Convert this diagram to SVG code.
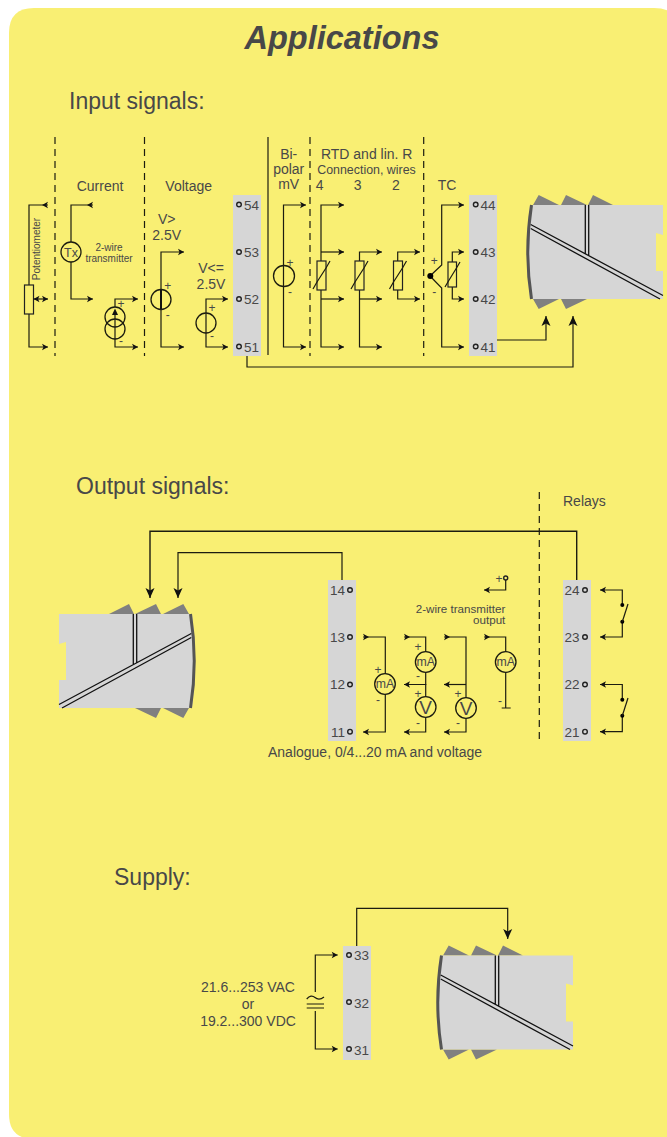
<svg xmlns="http://www.w3.org/2000/svg" xmlns:xlink="http://www.w3.org/1999/xlink" width="667" height="1137" viewBox="0 0 667 1137">
<style>
text{font-family:"Liberation Sans",Arial,sans-serif;fill:#484848}
.h{font-size:23px}
.t{font-size:14px}
.m{font-size:14px;text-anchor:middle}
.s{font-size:10px;text-anchor:middle}
.n{font-size:13.500px}
.e{font-size:13.500px;text-anchor:end}
.pm{font-size:12px;text-anchor:middle}
.ma{font-size:12.300px;text-anchor:middle}
.v{font-size:19px;text-anchor:middle}
.b{fill:#d6d6d6}
.w{fill:none;stroke:#1c1c10;stroke-width:1.2}
.w2{fill:none;stroke:#1c1c10;stroke-width:1.4}
.a{marker-end:url(#arr)}
.r{marker-end:url(#rev)}
.big{marker-end:url(#big)}
.c{fill:none;stroke:#1c1c10;stroke-width:1.3}
.o{fill:none;stroke:#222;stroke-width:1.4}
.d{fill:none;stroke:#1c1c10;stroke-width:1.2;stroke-dasharray:7 5}
.rs{fill:none;stroke:#222;stroke-width:1.2}
.tab{fill:#808080}
.dt{fill:#000}
</style>
<defs>
<marker id="arr" markerUnits="userSpaceOnUse" markerWidth="8" markerHeight="8" refX="6.500" refY="4" orient="auto"><path d="M0.500 0.700 L6.500 4 L0.500 7.300 L2 4Z" fill="#111"/></marker>
<marker id="rev" markerUnits="userSpaceOnUse" markerWidth="8" markerHeight="8" refX="6.500" refY="4" orient="auto"><path d="M0.500 4 L6.500 0.700 L5 4 L6.500 7.300Z" fill="#111"/></marker>
<marker id="big" markerUnits="userSpaceOnUse" markerWidth="12" markerHeight="12" refX="10" refY="5" orient="auto"><path d="M0 0.500 L10 5 L0 9.500 L2.500 5Z" fill="#111"/></marker>
<g id="device">
<path class="tab" d="M533 205L538.700 195L559 205ZM561 205L566 195L587 205ZM588 205L593 195L613 205ZM533 299L538.700 309L559 299ZM561 299L566 309L587 299Z"/>
<path class="b" d="M530 205H663V235L656 233V271H663V299H530Q524 252 530 205Z"/>
<path d="M531.500 205Q524 252 531.500 299" fill="none" stroke="#555" stroke-width="3"/>
<path d="M530.700 224.500L663 295.500M530.700 228.500L660 299M585.300 205V254M588.700 205V256" fill="none" stroke="#111" stroke-width="1.300"/>
</g>
</defs>

<path id="panel" d="M34 8H654Q679 8 679 33V1139H34Q9 1139 9 1114V33Q9 8 34 8Z" fill="#f9ef73"/>

<g id="headings">
<text x="342" y="49" font-size="32.500" font-weight="bold" font-style="italic" text-anchor="middle">Applications</text>
<text class="h" x="69" y="109">Input signals:</text>
<text class="h" x="76" y="494">Output signals:</text>
<text class="h" x="114" y="885">Supply:</text>
</g>

<g id="dividers">
<path class="d" d="M55 137V356M144.500 137V356M310 137V356M423.700 137V356M539.300 492V741"/>
<path class="w" d="M268 137V355"/>
</g>

<g id="connectors">
<path class="w" d="M497 340H546V316" marker-end="url(#big)"/>
<path class="w" d="M247 356V367H573V316" marker-end="url(#big)"/>
<path class="w2" d="M576.700 580V531.300H150V598" marker-end="url(#big)"/>
<path class="w" d="M342 580V552.700H178V598" marker-end="url(#big)"/>
<path class="w" d="M356.700 946V908.300H507.700V939" marker-end="url(#big)"/>
</g>

<g id="block-input-left">
<rect class="b" x="233" y="195" width="28" height="161"/>
<circle class="o" cx="239" cy="204.500" r="2.300"/><circle class="o" cx="239" cy="252" r="2.300"/><circle class="o" cx="239" cy="299" r="2.300"/><circle class="o" cx="239" cy="346.500" r="2.300"/>
<text class="n" x="244" y="209.500">54</text><text class="n" x="244" y="257">53</text><text class="n" x="244" y="304">52</text><text class="n" x="244" y="351.500">51</text>
</g>

<g id="block-input-right">
<rect class="b" x="469" y="195" width="28" height="161"/>
<circle class="o" cx="475.700" cy="204.500" r="2.300"/><circle class="o" cx="475.700" cy="252" r="2.300"/><circle class="o" cx="475.700" cy="299" r="2.300"/><circle class="o" cx="475.700" cy="346.500" r="2.300"/>
<text class="n" x="480.500" y="209.500">44</text><text class="n" x="480.500" y="257">43</text><text class="n" x="480.500" y="304">42</text><text class="n" x="480.500" y="351.500">41</text>
</g>

<g id="potentiometer">
<path class="w r" d="M29 285V205H48"/>
<path class="w a" d="M29 314V347H48"/>
<rect class="rs" x="24.500" y="285" width="9" height="29"/>
<path class="w a" d="M33.500 299H48"/>
<path d="M33.500 299L39.500 295.700L38 299L39.500 302.300Z" fill="#111"/>
<text font-size="10" text-anchor="middle" transform="translate(40 249) rotate(-90)">Potentiometer</text>
</g>

<g id="current">
<text class="m" x="100" y="190.700">Current</text>
<path class="w r" d="M71 242V205H93"/>
<path class="w a" d="M71 262V299H93"/>
<circle class="c" cx="71" cy="252" r="10"/>
<text x="71" y="256.700" font-size="12.500" text-anchor="middle">Tx</text>
<text class="s" x="109" y="250.700">2-wire</text>
<text class="s" x="109" y="262">transmitter</text>
<path class="w a" d="M115 307V299H138"/>
<path class="w a" d="M115 339V347H138"/>
<circle class="c" cx="115" cy="317" r="10"/>
<circle class="c" cx="115" cy="329" r="10"/>
<path class="w" d="M115 339V313"/>
<path d="M115 308.500L112 315H118Z" fill="#111"/>
<text class="pm" x="121" y="308">+</text><text class="pm" x="121" y="345">-</text>
</g>

<g id="voltage">
<text class="m" x="188.700" y="190.700">Voltage</text>
<text class="m" x="166.700" y="224.300">V&gt;</text><text class="m" x="166.700" y="240">2.5V</text>
<path class="w a" d="M161 299V252H184"/>
<path class="w a" d="M161 299V347H184"/>
<circle class="c" cx="161" cy="299.500" r="10"/>
<path d="M161 290V309" stroke="#111" stroke-width="2"/>
<text class="pm" x="167.700" y="290">+</text><text class="pm" x="167.700" y="318.500">-</text>
<text class="m" x="211" y="273.300">V&lt;=</text><text class="m" x="211" y="289">2.5V</text>
<path class="w a" d="M206 323V299H228"/>
<path class="w a" d="M206 323V347H228"/>
<circle class="c" cx="206" cy="323" r="10"/>
<text class="pm" x="212" y="312">+</text><text class="pm" x="212" y="340">-</text>
</g>

<g id="bipolar">
<text class="m" x="288.700" y="159">Bi-</text><text class="m" x="288.700" y="174">polar</text><text class="m" x="288.700" y="188.500">mV</text>
<path class="w a" d="M283.500 276V205H306"/>
<path class="w a" d="M283.500 276V347H306"/>
<circle class="c" cx="284" cy="276" r="10.500"/>
<text class="pm" x="290" y="266.500">+</text><text class="pm" x="290" y="295.500">-</text>
</g>

<g id="rtd">
<text class="m" x="366.700" y="159">RTD and lin. R</text>
<text x="366.500" y="174" font-size="12.400" text-anchor="middle">Connection, wires</text>
<text class="m" x="319.700" y="190">4</text><text class="m" x="357.700" y="190">3</text><text class="m" x="396" y="190">2</text>
<path class="w a" d="M321 261V205H344"/>
<path class="w a" d="M321 252H344"/>
<path class="w a" d="M321 290V347H344"/>
<path class="w a" d="M321 299H344"/>
<rect class="rs" x="317" y="261" width="9" height="29"/>
<path class="w" d="M313 289L317 282L326 268L330 261"/>
<path class="w a" d="M359.500 261V252H382"/>
<path class="w a" d="M359.500 290V347H382"/>
<path class="w a" d="M359.500 299H382"/>
<rect class="rs" x="355" y="261" width="9" height="29"/>
<path class="w" d="M351 289L355 282L364 268L368 261"/>
<path class="w a" d="M397.700 261V252H420"/>
<path class="w a" d="M397.700 290V299H420"/>
<rect class="rs" x="393.500" y="261" width="9" height="29"/>
<path class="w" d="M389.500 289L393.500 282L402.500 268L406.500 261"/>
</g>

<g id="tc">
<text class="m" x="447" y="190">TC</text>
<path class="w a" d="M430 276L441.700 265V205H464"/>
<path class="w a" d="M430 276L441.700 288V347H464"/>
<circle class="dt" cx="430.300" cy="276" r="3"/>
<text class="pm" x="434.300" y="265">+</text><text class="pm" x="434.300" y="296">-</text>
<path class="w a" d="M452.300 262V252H464"/>
<path class="w a" d="M452.300 287V299H464"/>
<rect class="rs" x="448" y="262" width="8.500" height="25"/>
<path class="w" d="M445 287L448.500 281L456.500 268L460 262"/>
</g>

<use id="device-input" xlink:href="#device" href="#device"/>

<g id="block-output">
<rect class="b" x="328" y="580" width="28" height="161"/>
<circle class="o" cx="350" cy="590" r="2.300"/><circle class="o" cx="350" cy="637" r="2.300"/><circle class="o" cx="350" cy="684.500" r="2.300"/><circle class="o" cx="350" cy="731.700" r="2.300"/>
<text class="e" x="345" y="595">14</text><text class="e" x="345" y="642">13</text><text class="e" x="345" y="689">12</text><text class="e" x="345" y="736.700">11</text>
</g>

<g id="output-1">
<path class="w r" d="M385.300 674V637H363"/>
<path class="w a" d="M385.300 694V732H363"/>
<circle class="c" cx="385" cy="684" r="10.300"/>
<text class="ma" x="385" y="688.300">mA</text>
<text class="pm" x="378" y="674">+</text><text class="pm" x="378" y="703.500">-</text>
</g>
<g id="output-2">
<path class="w r" d="M425.700 652V637H404"/>
<path class="w a" d="M425.700 672V684.500H404"/>
<path class="w" d="M425.700 684V697"/>
<path class="w a" d="M425.700 717V732H404"/>
<circle class="c" cx="425.700" cy="662" r="10.300"/>
<circle class="c" cx="425.700" cy="707" r="10.300"/>
<text class="ma" x="425.700" y="666">mA</text>
<text class="v" x="425.700" y="714">V</text>
<text class="pm" x="418" y="650.500">+</text><text class="pm" x="418" y="680">-</text><text class="pm" x="418" y="698">+</text><text class="pm" x="418" y="727">-</text>
</g>
<g id="output-3">
<path class="w r" d="M466 698V637H444"/>
<path class="w a" d="M466 684.500H444"/>
<path class="w a" d="M466 718V732H444"/>
<circle class="c" cx="466" cy="708" r="10.300"/>
<text class="v" x="466" y="715">V</text>
<text class="pm" x="458" y="698">+</text><text class="pm" x="458" y="727">-</text>
</g>
<g id="output-4">
<path class="w r" d="M505.700 652V637H484"/>
<path class="w" d="M505.700 672V708M501.700 708H510.700"/>
<circle class="c" cx="505.700" cy="662" r="10.300"/>
<text class="ma" x="505.700" y="666">mA</text>
<text class="pm" x="500" y="705">-</text>
<text class="pm" x="499" y="583">+</text>
<circle class="o" cx="505.700" cy="578" r="2"/>
<path class="w a" d="M505.700 580V590H484"/>
<text x="505.300" y="612.700" font-size="11.600" text-anchor="end">2-wire transmitter</text>
<text x="505.300" y="623.700" font-size="11.600" text-anchor="end">output</text>
<text class="m" x="375" y="757">Analogue, 0/4...20 mA and voltage</text>
</g>

<use id="device-output" xlink:href="#device" href="#device" transform="translate(722 409) scale(-1 1)"/>

<g id="block-relays">
<text class="t" x="563" y="506">Relays</text>
<rect class="b" x="563" y="580" width="28" height="161"/>
<circle class="o" cx="585" cy="590" r="2.300"/><circle class="o" cx="585" cy="637" r="2.300"/><circle class="o" cx="585" cy="684.500" r="2.300"/><circle class="o" cx="585" cy="731.700" r="2.300"/>
<text class="e" x="579.500" y="595">24</text><text class="e" x="579.500" y="642">23</text><text class="e" x="579.500" y="689">22</text><text class="e" x="579.500" y="736.700">21</text>
</g>

<g id="relay-1">
<path class="w a" d="M622.300 605V590H600"/>
<path class="w a" d="M622.300 621.700V637H600"/>
<circle class="dt" cx="622.300" cy="605" r="2"/><circle class="dt" cx="622.300" cy="621.700" r="2"/>
<path class="w" d="M622.300 621.700L628 604"/>
</g>
<g id="relay-2">
<path class="w a" d="M622.300 699.700V684.500H600"/>
<path class="w a" d="M622.300 715.700V731.700H600"/>
<circle class="dt" cx="622.300" cy="699.700" r="2"/><circle class="dt" cx="622.300" cy="715.700" r="2"/>
<path class="w" d="M622.300 715.700L628 698"/>
</g>

<g id="supply-source">
<text class="m" x="248" y="992">21.6...253 VAC</text>
<text class="m" x="248" y="1009">or</text>
<text class="m" x="248" y="1026">19.2...300 VDC</text>
<path class="w a" d="M315.300 992V955H337.700"/>
<path class="w a" d="M315.300 1011V1049H337.700"/>
<path class="w" d="M306.700 999Q311 994 315 997.500T324 997M306.700 1004H324M306.700 1008H324"/>
</g>

<g id="block-supply">
<rect class="b" x="343" y="946" width="28" height="114"/>
<circle class="o" cx="349" cy="955" r="2.300"/><circle class="o" cx="349" cy="1002" r="2.300"/><circle class="o" cx="349" cy="1049" r="2.300"/>
<text class="n" x="354" y="960">33</text><text class="n" x="354" y="1007.500">32</text><text class="n" x="354" y="1054.500">31</text>
</g>

<use id="device-supply" xlink:href="#device" href="#device" transform="translate(-90 750.500)"/>
</svg>
